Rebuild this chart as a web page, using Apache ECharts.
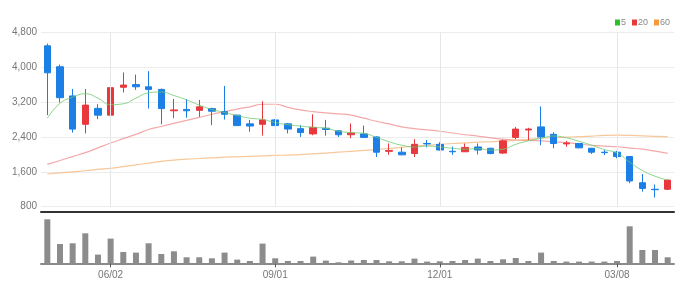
<!DOCTYPE html>
<html><head><meta charset="utf-8">
<script src="https://cdn.jsdelivr.net/npm/echarts@6/dist/echarts.min.js"></script>
<style>html,body{margin:0;padding:0;background:#fff}#c{width:693px;height:296px}</style>
</head><body><div id="c"></div>
<script>
const dates = ['04/28','05/05','05/12','05/19','05/26','06/02','06/09','06/16','06/23','06/30',
  '07/07','07/14','07/21','07/28','08/04','08/11','08/18','08/25','09/01','09/08',
  '09/15','09/22','09/29','10/06','10/13','10/20','10/27','11/03','11/10','11/17',
  '11/24','12/01','12/08','12/15','12/22','12/29','01/05','01/12','01/19','01/26',
  '02/02','02/09','02/16','02/23','03/02','03/08','03/15','03/22','03/29','04/05'];
const labelDates = ['06/02','09/01','12/01','03/08'];
const opens = [4490,4010,3340,2690,3055,2900,3540,3600,3550,3490, 3000,3030,3010,3050,2980,2900,2700,2690,2790,2700,
  2590,2470,2600,2540,2450,2470,2400,2070,2050,2020, 2250,2230,2070,2060,2170,2140,2030,2390,2560,2630,
  2460,2240,2250,2140,2050,2050,1950,1350,1200,1200];
const closes = [3870,3300,2580,3130,2900,3530,3590,3550,3490,3050, 3020,3000,3090,2990,2920,2660,2650,2790,2660,2580,
  2500,2620,2570,2450,2490,2390,2050,2090,1990,2230, 2240,2100,2060,2160,2100,2020,2310,2580,2580,2400,
  2250,2260,2150,2050,2040,1950,1390,1220,1190,1410];
const lows = [2900,3190,2500,2480,2810,2830,3420,3480,3050,2690, 2830,2840,2860,2670,2800,2650,2520,2430,2650,2480,
  2400,2440,2430,2400,2370,2380,1940,1990,1980,1940, 2160,2090,1990,2055,2000,2000,2010,2350,2330,2210,
  2140,2175,2140,2010,1985,1910,1340,1145,1010,1180];
const highs = [4540,4060,3500,3500,3150,3630,3880,3830,3910,3510, 3270,3270,3250,3070,3570,2910,2790,3220,2810,2720,
  2670,2920,2790,2550,2710,2660,2420,2250,2160,2350, 2330,2280,2180,2250,2250,2150,2340,2630,2610,3100,
  2510,2310,2260,2150,2100,2080,1960,1550,1310,1420];
const ma5 = [2830,3170,3310,3390,3290,3140,3160,3290,3410,3430, 3350,3250,3130,3030,2960,2890,2830,2800,2730,2680,
  2650,2620,2600,2530,2500,2480,2390,2290,2210,2170, 2190,2170,2140,2120,2130,2100,2120,2230,2310,2370,
  2420,2380,2300,2210,2110,2030,1820,1630,1500,1410];
const ma20 = [1772,1860,1950,2040,2150,2260,2360,2460,2570,2640, 2710,2780,2850,2920,2980,3040,3090,3150,3150,3080,
  3020,2980,2950,2930,2900,2830,2760,2700,2630,2590, 2560,2530,2490,2450,2420,2380,2350,2330,2320,2310,
  2290,2270,2240,2210,2190,2175,2145,2120,2075,2025];
const ma60 = [1550,1575,1600,1625,1655,1680,1720,1760,1800,1840, 1870,1890,1905,1920,1935,1945,1955,1965,1975,1985,
  1995,2010,2030,2050,2070,2090,2110,2135,2160,2190, 2210,2230,2250,2265,2280,2290,2305,2320,2340,2370,
  2385,2395,2405,2420,2435,2440,2435,2425,2415,2405];
const volumes = [440,193,200,300,87,247,113,107,200,93, 120,60,60,50,107,37,23,197,50,23,
  23,67,27,10,28,33,33,20,20,47, 17,20,23,33,47,23,40,53,23,107,
  23,17,17,17,17,23,370,133,133,60];
const yTicks = [800,1600,2400,3200,4000,4800];

const FONT = '"Liberation Sans Narrow","Liberation Sans",sans-serif';
const candleData = dates.map((d,i)=>[opens[i],closes[i],lows[i],highs[i]]);
const isLabel = (idx)=>labelDates.indexOf(dates[idx])>=0;

const chart = echarts.init(document.getElementById('c'), null, {renderer:'canvas'});
chart.setOption({
  animation:false,
  legend:{
    data:['5','20','60'], right:23, top:18, itemWidth:5, itemHeight:6, itemGap:6, icon:'rect', padding:0,
    textStyle:{fontSize:9, color:'#888', fontFamily:FONT, padding:[0,0,0,-4]}
  },
  grid:[
    {left:41, right:19, top:32.3, bottom:89.3},
    {left:41, right:19, top:219.3, bottom:32.7}
  ],
  xAxis:[
    {type:'category', gridIndex:0, data:dates, boundaryGap:true, offset:5,
     axisLine:{show:true, lineStyle:{color:'#333', width:2}},
     axisTick:{show:false}, axisLabel:{show:false}, splitLine:{show:false}},
    {type:'category', gridIndex:1, data:dates, boundaryGap:true,
     axisLine:{show:true, lineStyle:{color:'#8a8a8a', width:2}},
     axisTick:{show:true, alignWithLabel:true, length:4, interval:(i)=>isLabel(i), lineStyle:{color:'#555', width:1}},
     axisLabel:{show:true, interval:(i)=>isLabel(i), fontSize:10, color:'#777', fontFamily:FONT, margin:7},
     splitLine:{show:false}}
  ],
  yAxis:[
    {type:'value', gridIndex:0, min:yTicks[0], max:yTicks[yTicks.length-1], interval:800,
     axisLine:{show:false}, axisTick:{show:false},
     axisLabel:{fontSize:10, color:'#777', fontFamily:FONT, margin:4,
       formatter:(v)=>v.toLocaleString('en-US')},
     splitLine:{lineStyle:{color:'#ececec', width:1}}},
    {type:'value', gridIndex:1, min:0, max:440, show:false, splitLine:{show:false}}
  ],
  series:[
    {type:'candlestick', name:'price', xAxisIndex:0, yAxisIndex:0, data:candleData, barWidth:7,
     itemStyle:{color:'#e8383d', color0:'#1c7fe6', borderColor:'#e8383d', borderColor0:'#1c7fe6', borderWidth:1},
     markLine:{silent:true, symbol:'none', label:{show:false}, animation:false,
       lineStyle:{color:'#e6e6e6', width:1, type:'solid'},
       data:labelDates.map(d=>({xAxis:d}))},
     z:3},
    {type:'line', name:'5', xAxisIndex:0, yAxisIndex:0, data:ma5, smooth:true, symbol:'none',
     itemStyle:{color:'#2bbf2b'}, lineStyle:{color:'rgba(110,200,110,0.8)', width:1}, z:4},
    {type:'line', name:'20', xAxisIndex:0, yAxisIndex:0, data:ma20, smooth:true, symbol:'none',
     itemStyle:{color:'#e83a3a'}, lineStyle:{color:'rgba(240,140,140,0.75)', width:1.2}, z:2},
    {type:'line', name:'60', xAxisIndex:0, yAxisIndex:0, data:ma60, smooth:true, symbol:'none',
     itemStyle:{color:'#f59a3a'}, lineStyle:{color:'rgba(245,180,120,0.75)', width:1.2}, z:2},
    {type:'bar', name:'vol', xAxisIndex:1, yAxisIndex:1, data:volumes, barWidth:6,
     itemStyle:{color:'#8c8c8c'}}
  ]
});
</script></body></html>
